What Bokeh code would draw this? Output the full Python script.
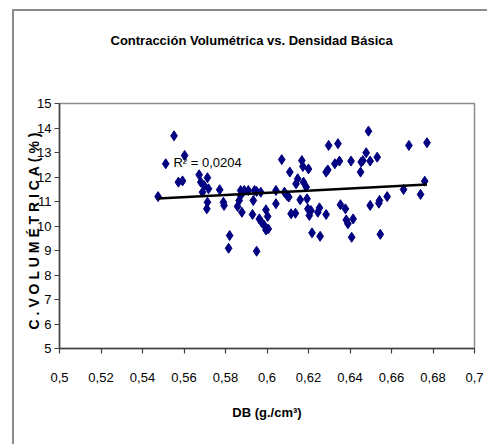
from bokeh.plotting import figure
from bokeh.models import FixedTicker, Range1d, Label, Title
from bokeh.embed import file_html
from bokeh.resources import INLINE

# Data
db = [0.5475, 0.5512, 0.5552, 0.5573, 0.5593, 0.5603, 0.5673, 0.5681, 0.5713, 0.5697,
      0.5718, 0.5689, 0.5772, 0.5713, 0.5710, 0.5790, 0.5793, 0.5820, 0.5815, 0.6071,
      0.6168, 0.6173, 0.6200, 0.6110, 0.6148, 0.6140, 0.6176, 0.6189, 0.5873, 0.5890,
      0.5910, 0.5940, 0.5950, 0.5970, 0.6043, 0.6084, 0.6097, 0.6105, 0.5873, 0.5866,
      0.5858, 0.5879, 0.5934, 0.6043, 0.6160, 0.6193, 0.6197, 0.5930, 0.5963, 0.5974,
      0.5995, 0.6003, 0.5987, 0.5995, 0.6006, 0.6116, 0.6137, 0.5950, 0.6489, 0.6297,
      0.6342, 0.6478, 0.6531, 0.6405, 0.6454, 0.6462, 0.6497, 0.6327, 0.6349, 0.6451,
      0.6285, 0.6293, 0.6212, 0.6204, 0.6253, 0.6245, 0.6285, 0.6354, 0.6378, 0.6382,
      0.6390, 0.6415, 0.6408, 0.6217, 0.6256, 0.6497, 0.6542, 0.6539, 0.6579, 0.6546,
      0.6684, 0.6771, 0.6760, 0.6658, 0.6740]
cv = [11.20, 12.54, 13.68, 11.79, 11.84, 12.88, 12.09, 11.79, 11.97, 11.65,
      11.52, 11.38, 11.48, 10.97, 10.70, 10.97, 10.84, 9.61, 9.09, 12.71,
      12.67, 12.43, 12.33, 12.20, 11.93, 11.72, 11.79, 11.59, 11.45, 11.45,
      11.45, 11.45, 11.41, 11.38, 11.45, 11.38, 11.24, 11.18, 11.24, 11.04,
      10.80, 10.56, 11.04, 10.91, 11.07, 11.11, 10.70, 10.47, 10.29, 10.15,
      10.66, 10.39, 10.02, 9.84, 9.88, 10.50, 10.52, 8.97, 13.87, 13.29,
      13.36, 12.99, 12.81, 12.65, 12.61, 12.67, 12.65, 12.54, 12.65, 12.20,
      12.20, 12.29, 10.63, 10.43, 10.74, 10.56, 10.47, 10.87, 10.70, 10.25,
      10.09, 10.29, 9.54, 9.72, 9.58, 10.84, 11.04, 10.93, 11.20, 9.66,
      13.29, 13.40, 11.83, 11.49, 11.29]

trend_x = [0.5475, 0.6771]
trend_y = [11.12, 11.69]
r2_text = "R² = 0,0204"
title_text = "Contracción Volumétrica vs. Densidad Básica"
x_label = "DB (g./cm³)"
y_label = "\u00a0".join("C. VOLUMÉTRICA (%)".replace(" ", "")) + "\u2800"  # letter-spaced

x_ticks = [0.5, 0.52, 0.54, 0.56, 0.58, 0.6, 0.62, 0.64, 0.66, 0.68, 0.7]
x_tick_labels = ["0,5", "0,52", "0,54", "0,56", "0,58", "0,6", "0,62", "0,64", "0,66", "0,68", "0,7"]
y_ticks = [5, 6, 7, 8, 9, 10, 11, 12, 13, 14, 15]

FONT = "Liberation Sans"
W, H = 487, 444

p = figure(width=W, height=H,
           x_range=Range1d(0.5, 0.7), y_range=Range1d(5, 15),
           output_backend="svg", toolbar_location=None,
           min_border_left=59, min_border_right=13,
           min_border_top=103, min_border_bottom=96)
# outer chart border: top and left edges (right/bottom lie outside the page)
p.border_fill_color = None
p.styles = {
    "background-color": "white",
    "background-image": "linear-gradient(#8c8c8c, #8c8c8c), linear-gradient(#8c8c8c, #8c8c8c)",
    "background-size": "2px 100%, 100% 2px",
    "background-position": "12px 9px, 12px 9px",
    "background-repeat": "no-repeat",
}

# spacer next to the frame; the plot title itself is stacked outermost
p.add_layout(Title(text="\u2800", standoff=31, text_font=FONT,
                   text_font_size="13px"), "above")
p.title.text = title_text
p.title.align = "left"
p.title.offset = 51
p.title.standoff = 16
p.title.text_font = FONT
p.title.text_font_size = "13px"
p.title.text_font_style = "bold"
p.title.text_color = "black"

p.xgrid.visible = False
p.ygrid.visible = False
p.outline_line_color = "#8c8c8c"
p.outline_line_width = 1.5
p.background_fill_color = "white"

p.xaxis.ticker = FixedTicker(ticks=x_ticks)
p.xaxis.major_label_overrides = dict(zip(x_ticks, x_tick_labels))
p.yaxis.ticker = FixedTicker(ticks=y_ticks)

for ax in (p.xaxis[0], p.yaxis[0]):
    ax.axis_line_color = "#404040"
    ax.axis_line_width = 1.5
    ax.major_tick_line_color = "#404040"
    ax.major_tick_line_width = 1.2
    ax.major_tick_in = 0
    ax.major_tick_out = 5
    ax.minor_tick_line_color = None
    ax.major_label_text_font = FONT
    ax.major_label_text_font_size = "13px"
    ax.major_label_text_color = "black"
    ax.axis_label_text_font = FONT
    ax.axis_label_text_font_style = "bold"
    ax.axis_label_text_font_size = "13px"
    ax.axis_label_text_color = "black"

p.xaxis.axis_label = x_label
p.xaxis.major_label_standoff = 19
p.xaxis.axis_label_standoff = 20
p.yaxis.axis_label = y_label
p.yaxis.axis_label_text_font_size = "14px"
p.yaxis.major_label_standoff = 3
p.yaxis.axis_label_standoff = -8

p.scatter(db, cv, marker="diamond", size=10, fill_color="#000080", line_color="#000080")
p.line(trend_x, trend_y, line_color="black", line_width=2.5)

p.add_layout(Label(x=0.5549, y=12.6, text=r2_text, text_font=FONT,
                   text_font_size="13px", text_baseline="middle", text_color="black"))

open("out.html", "w").write(file_html(p, INLINE))
